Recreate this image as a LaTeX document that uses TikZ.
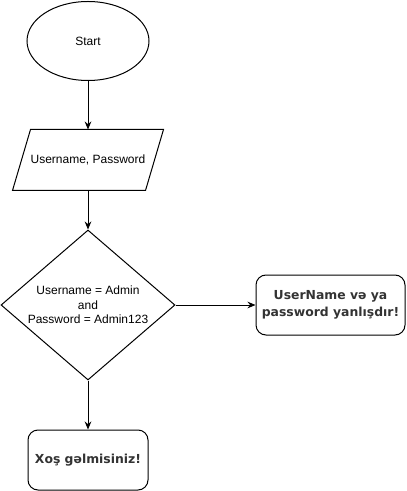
\documentclass[tikz,border=0pt]{standalone}
\usepackage{fontspec}
\setmainfont{Liberation Sans}
\newfontfamily\boldfont{DejaVu Sans}
\usetikzlibrary{arrows.meta,shapes.geometric,calc}
\tikzset{
  flow/.style={draw, line width=0.75pt, inner sep=0pt, font=\fontsize{9}{11}\selectfont, align=center},
  msg/.style={flow, rounded corners=7.5pt, text=black!80, font=\boldfont\bfseries\fontsize{9.3}{12.8}\selectfont},
  link/.style={line width=0.75pt, -{Stealth[length=6pt,width=5pt]}}
}
\begin{document}
\begin{tikzpicture}[x=0.75pt,y=-0.75pt]
\useasboundingbox (0,0) rectangle (406,491);
\node [flow, ellipse, minimum width=91.5pt, minimum height=59.25pt] (start) at (88,41) {Start};
% parallelogram, slanted by hand
\node [flow, draw=none, minimum width=99pt, minimum height=45pt] (input) at (88,160) {Username, Password};
\draw [line width=0.75pt] ($(input.north west)+(9,0)$) -- ($(input.north east)+(9,0)$)
  -- ($(input.south east)+(-9,0)$) -- ($(input.south west)+(-9,0)$) -- cycle;
\node [flow, diamond, minimum width=130.5pt, minimum height=112.5pt, aspect=1.16] (check) at (88,305) {Username = Admin\\and\\Password = Admin123};
\node [msg, minimum width=111.75pt, minimum height=45pt] (fail) at (330.5,305) {UserName və ya\\password yanlışdır!};
\node [msg, minimum width=90pt, minimum height=45pt] (ok) at (88,460) {Xoş gəlmisiniz!};
\draw [link] (start) -- (input);
\draw [link] (input) -- (check);
\draw [link] (check) -- (fail);
\draw [link] (check) -- (ok);
\end{tikzpicture}
\end{document}
